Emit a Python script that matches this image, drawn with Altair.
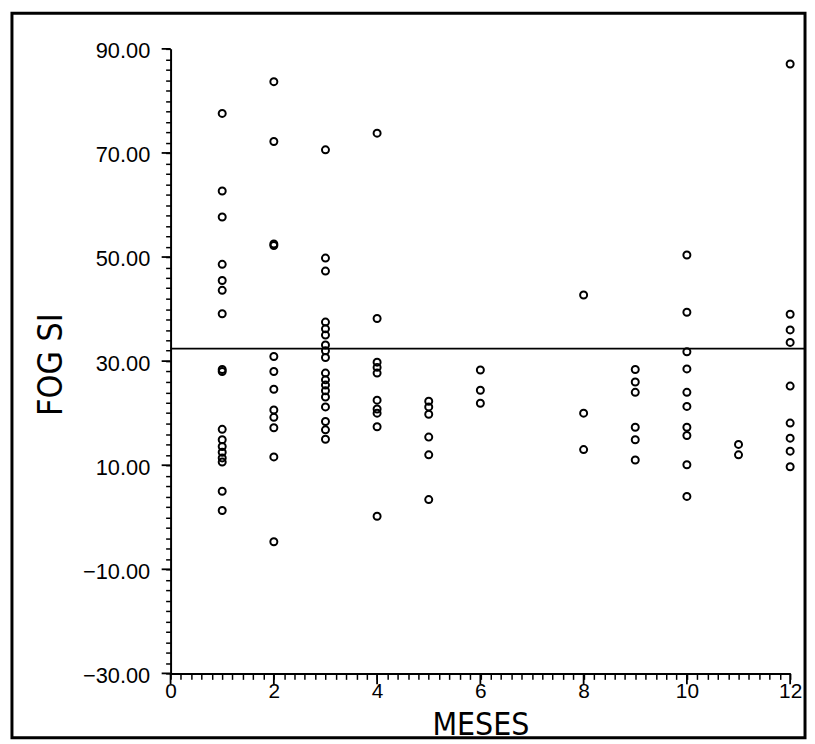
import altair as alt
import pandas as pd

# ---- data ----
months = [1, 2, 3, 4, 5, 6, 8, 9, 10, 11, 12]
fog_m1 = [77.6, 62.7, 57.7, 48.6, 45.5, 43.6, 39.1, 28.4, 28.0, 16.9, 14.9, 13.6, 12.5, 11.4, 10.6, 5.0, 1.3]
fog_m2 = [83.7, 72.2, 52.5, 52.2, 30.9, 28.0, 24.6, 20.6, 19.2, 17.2, 11.6, -4.7]
fog_m3 = [70.6, 49.8, 47.3, 37.5, 36.2, 35.0, 33.1, 32.0, 30.7, 27.7, 26.4, 25.4, 24.3, 23.1, 21.2, 18.4, 16.8, 15.0]
fog_m4 = [73.8, 38.2, 29.8, 28.8, 27.7, 22.5, 20.8, 20.0, 17.4, 0.2]
fog_m5 = [22.3, 21.2, 19.8, 15.4, 12.0, 3.4]
fog_m6 = [28.3, 24.4, 21.9]
fog_m8 = [42.7, 20.0, 13.0]
fog_m9 = [28.4, 26.0, 24.0, 17.3, 14.9, 11.0]
fog_m10 = [50.4, 39.4, 31.8, 28.5, 24.0, 21.3, 17.3, 15.7, 10.1, 4.0]
fog_m11 = [14.0, 12.0]
fog_m12 = [87.1, 39.0, 36.0, 33.6, 25.2, 18.1, 15.2, 12.7, 9.7]
series = [fog_m1, fog_m2, fog_m3, fog_m4, fog_m5, fog_m6, fog_m8, fog_m9, fog_m10, fog_m11, fog_m12]

mean_line_y = [32.4]
mean_line_x = [0, 12.3]

x_minor_ticks = [round(k * 0.2, 1) for k in range(0, 61)]
x_major_ticks = [0, 2, 4, 6, 8, 10, 12]
y_minor_ticks = list(range(-30, 91, 2))
y_major_ticks = [-30, -10, 10, 30, 50, 70, 90]

rows = []
for m, vals in zip(months, series):
    for v in vals:
        rows.append({"MESES": m, "FOG": v})
df = pd.DataFrame(rows)
line_df = pd.DataFrame({"x": [mean_line_x[0]], "x2": [mean_line_x[1]], "y": mean_line_y})
xmaj_df = pd.DataFrame({"t": x_major_ticks})
ymaj_df = pd.DataFrame({"t": y_major_ticks})

LABEL_FONT = "Liberation Sans, Arial, sans-serif"
TITLE_FONT = "Liberation Sans Narrow, DejaVu Sans Condensed, Liberation Sans, sans-serif"

W, H = 625, 630
x_scale = alt.Scale(domain=[0, 12], nice=False, zero=False)
y_scale = alt.Scale(domain=[-30, 90], nice=False, zero=False)

x_axis = alt.Axis(
    values=x_minor_ticks,
    grid=False,
    domainColor="black", domainWidth=2,
    tickColor="black", tickWidth=1.5, tickSize=6,
    labelExpr="abs(datum.value - 2*round(datum.value/2)) < 0.01 ? format(datum.value, 'd') : ''",
    labelFont=LABEL_FONT, labelFontSize=21, labelColor="black",
    labelPadding=1, labelFlush=False, labelOverlap=False, labelBound=False,
    title="MESES", titleFont=TITLE_FONT, titleFontSize=32, titleFontWeight="normal",
    titleColor="black", titleY=62, titleBaseline="alphabetic",
)
y_axis = alt.Axis(
    values=y_minor_ticks,
    grid=False,
    domainColor="black", domainWidth=2,
    tickColor="black", tickWidth=1.5, tickSize=5,
    labelExpr="(datum.value + 30) % 20 == 0 ? format(datum.value, '.2f') : ''",
    labelFont=LABEL_FONT, labelFontSize=22, labelColor="black",
    labelPadding=16, labelFlush=False, labelOverlap=False, labelBound=False,
    labelBaseline="middle", labelOffset=2,
    title="FOG SI", titleFont=TITLE_FONT, titleFontSize=34, titleFontWeight="normal",
    titleColor="black", titleX=-110, titleY=318, titleAngle=270,
    titleBaseline="alphabetic", titleAlign="center",
)

points = alt.Chart(df).mark_point(
    shape="circle", filled=False, color="black", size=50, strokeWidth=2, opacity=1
).encode(
    x=alt.X("MESES:Q", scale=x_scale, axis=x_axis),
    y=alt.Y("FOG:Q", scale=y_scale, axis=y_axis),
)

mean_rule = alt.Chart(line_df).mark_rule(color="black", strokeWidth=1.6).encode(
    x=alt.X("x:Q", scale=x_scale, axis=x_axis),
    x2="x2:Q",
    y=alt.Y("y:Q", scale=y_scale, axis=y_axis),
)

# longer major ticks on the axes
x_major = alt.Chart(xmaj_df).mark_rule(color="black", strokeWidth=1.8).encode(
    x=alt.X("t:Q", scale=x_scale, axis=x_axis),
    y=alt.value(H), y2=alt.value(H + 11),
)
y_major = alt.Chart(ymaj_df).mark_rule(color="black", strokeWidth=1.8).encode(
    y=alt.Y("t:Q", scale=y_scale, axis=y_axis),
    x=alt.value(-9), x2=alt.value(0),
)

frame = alt.Chart(pd.DataFrame({"a": [1]})).mark_rect(
    fillOpacity=0, stroke="black", strokeWidth=3
).encode(
    x=alt.value(-160), x2=alt.value(640), y=alt.value(-36), y2=alt.value(695)
)

chart = alt.layer(points, mean_rule, x_major, y_major, frame).properties(
    width=W, height=H,
    padding={"left": 2, "top": 0, "right": 0, "bottom": 0},
    background="white",
).configure_view(stroke=None)

chart.save("out.html", embed_options={"renderer": "svg", "actions": False})
